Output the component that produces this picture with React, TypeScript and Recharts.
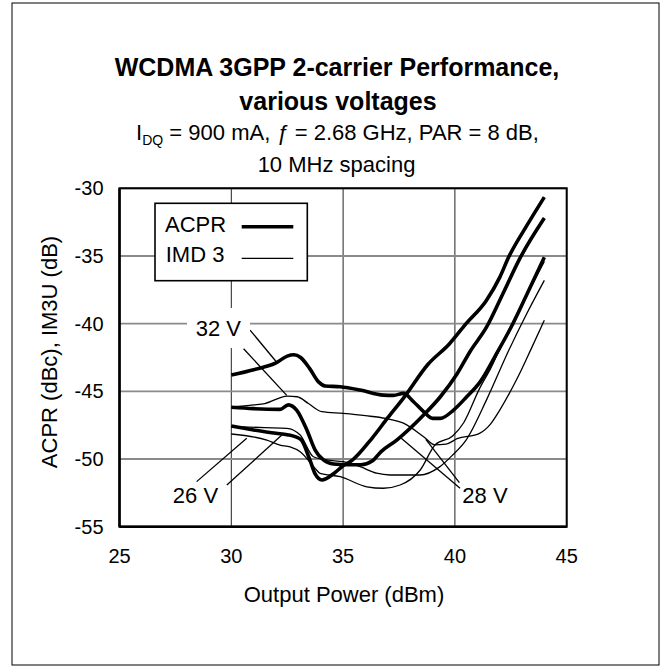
import React from 'react';
import { LineChart, Line, XAxis, YAxis, CartesianGrid, ReferenceLine, ReferenceArea } from 'recharts';

const FONT = '"Liberation Sans", Arial, sans-serif';

const xTicks = [25, 30, 35, 40, 45];
const yTicks = [-55, -50, -45, -40, -35, -30];

// ACPR (thick) curves: [Pout dBm, dBc]
const acpr26V = [[30,-47.56],[31,-47.85],[32,-48.1],[32.5,-48.2],[33.1,-48.55],[33.5,-50.0],[33.75,-51.1],[34.05,-51.55],[34.6,-51.05],[35.0,-50.5],[35.4,-50.1],[36.3,-48.45],[37.0,-46.95],[37.7,-45.5],[38.8,-43.0],[39.75,-41.5],[40.5,-40.0],[41.4,-38.3],[42.0,-36.6],[42.4,-35.1],[43.2,-32.8],[44,-30.65]];
const acpr28V = [[30,-46.18],[31,-46.28],[32.18,-46.33],[32.55,-46.0],[32.93,-46.4],[33.38,-47.86],[33.75,-49.34],[34.12,-50.07],[34.57,-50.37],[35.2,-50.42],[35.8,-50.42],[36.3,-50.15],[36.7,-49.45],[37.4,-48.6],[38.6,-46.75],[39.35,-45.4],[40.1,-43.7],[40.7,-42.0],[41.4,-40.3],[42.2,-37.6],[42.9,-35.2],[44,-32.2]];
const acpr32V = [[30,-43.8],[31,-43.4],[32,-42.9],[32.5,-42.4],[32.8,-42.3],[33.1,-42.5],[33.5,-43.3],[33.9,-44.3],[34.2,-44.6],[34.87,-44.66],[35.76,-44.9],[36.8,-45.28],[37.25,-45.3],[37.7,-45.15],[38.15,-45.77],[38.6,-46.5],[39.0,-47.0],[39.35,-47.0],[39.94,-46.38],[40.53,-45.4],[41.13,-44.3],[41.9,-42.1],[42.5,-40.3],[43.2,-37.9],[44,-35.1]];

// IMD3 (thin) curves: [Pout dBm, dB]
const imd26V = [[30,-48.15],[31.59,-48.6],[32.18,-48.97],[32.63,-49.1],[33.08,-49.46],[33.75,-50.69],[33.97,-51.06],[34.87,-51.3],[36.06,-52.05],[36.8,-52.16],[37.55,-51.92],[38.45,-50.81],[39.12,-48.95],[39.9,-48.3],[40.4,-47.3],[41.1,-44.8],[41.6,-43.3],[42.2,-41.2],[42.8,-39.2],[43.4,-37.3],[44,-35.4]];
const imd28V = [[30,-47.6],[31.5,-47.68],[32.48,-47.73],[33.08,-48.23],[33.67,-49.83],[34.27,-50.07],[35.0,-50.2],[35.76,-50.57],[36.5,-51.05],[37.1,-51.18],[38.45,-51.18],[39.3,-50.6],[39.9,-49.7],[40.5,-48.6],[41.45,-45.5],[42.4,-42.0],[43.2,-39.3],[44,-36.8]];
const imd32V = [[30,-46.15],[31,-46.0],[31.5,-45.9],[32.5,-45.35],[32.95,-45.4],[33.45,-45.9],[34.05,-46.5],[35,-46.63],[36,-46.8],[36.9,-47.0],[37.7,-47.35],[38.6,-48.35],[39.1,-48.95],[39.6,-48.9],[40.1,-48.5],[41.1,-48.1],[41.6,-47.4],[42.0,-46.4],[42.8,-44.0],[43.4,-41.9],[44,-39.75]];

// Callout leader lines: [[x1,y1],[x2,y2]]
const leaders32V = [[[30.84,-40.48],[32.03,-42.85]],[[30.55,-41.85],[32.48,-45.3]]];
const leaders26V = [[[28.45,-51.67],[30.69,-48.47]],[[29.8,-51.92],[32.26,-48.23]]];
const leaders28V = [[[40.23,-52.16],[37.55,-48.4]],[[40.2,-51.75],[38.7,-48.55]]];

const toPts = (arr: number[][]) => arr.map(([x, y]) => ({ x, y }));

const thick = [acpr26V, acpr28V, acpr32V];
const thin = [imd26V, imd28V, imd32V];
const leaders = [...leaders32V, ...leaders26V, ...leaders28V];

export default function App() {
  return (
    <div style={{ position: 'absolute', left: 0, top: 0, width: 665, height: 671, background: '#fff' }}>
      <LineChart
        width={665}
        height={671}
        margin={{ top: 188.3, right: 98.3, bottom: 104.3, left: 59.5 }}
        style={{ position: 'absolute', left: 0, top: 0 }}
      >
        <CartesianGrid horizontal={false} stroke="#222" strokeWidth={1} />
        <CartesianGrid vertical={false} stroke="#8a8a8a" strokeWidth={1.8} />
        <XAxis
          type="number"
          dataKey="x"
          domain={[25, 45]}
          ticks={xTicks}
          allowDataOverflow
          height={40}
          tickLine={false}
          tickSize={0}
          tickMargin={22}
          axisLine={{ stroke: '#000', strokeWidth: 2.5 }}
          tick={{ fontSize: 20, fill: '#000', fontFamily: FONT }}
        />
        <YAxis
          type="number"
          domain={[-55, -30]}
          ticks={yTicks}
          allowDataOverflow
          width={60}
          tickLine={false}
          tickSize={0}
          tickMargin={16}
          axisLine={{ stroke: '#000', strokeWidth: 2.5 }}
          tick={{ fontSize: 20, fill: '#000', fontFamily: FONT }}
        />
        <ReferenceArea x1={25} x2={45} y1={-55} y2={-30} fill="none" fillOpacity={0} stroke="#000" strokeWidth={2} />
        {leaders.map((seg, i) => (
          <ReferenceLine
            key={'ld' + i}
            segment={[{ x: seg[0][0], y: seg[0][1] }, { x: seg[1][0], y: seg[1][1] }]}
            stroke="#000"
            strokeWidth={1.3}
            ifOverflow="visible"
          />
        ))}
        {thin.map((d, i) => (
          <Line key={'t' + i} data={toPts(d)} dataKey="y" type="monotone" stroke="#000" strokeWidth={1.3} dot={false} activeDot={false} isAnimationActive={false} />
        ))}
        {thick.map((d, i) => (
          <Line key={'T' + i} data={toPts(d)} dataKey="y" type="monotone" stroke="#000" strokeWidth={3.6} dot={false} activeDot={false} isAnimationActive={false} />
        ))}
      </LineChart>
      <svg width={665} height={671} style={{ position: 'absolute', left: 0, top: 0, pointerEvents: 'none' }} fontFamily={FONT}>
        <rect x={12} y={3} width={647} height={662} fill="none" stroke="#000" strokeWidth={1} />
        <text x={337} y={76.4} textAnchor="middle" fontSize={25} fontWeight="bold" fill="#000">WCDMA 3GPP 2-carrier Performance,</text>
        <text x={338} y={109.6} textAnchor="middle" fontSize={25} fontWeight="bold" fill="#000">various voltages</text>
        <text x={337.5} y={140} textAnchor="middle" fontSize={22} fill="#000">
          I<tspan fontSize={14} dy={5}>DQ</tspan><tspan dy={-5}> = 900 mA, </tspan><tspan fontStyle="italic">ƒ</tspan> = 2.68 GHz, PAR = 8 dB,
        </text>
        <text x={336.5} y={172} textAnchor="middle" fontSize={22} fill="#000">10 MHz spacing</text>
        <text x={344} y={601.7} textAnchor="middle" fontSize={22} fill="#000">Output Power (dBm)</text>
        <text transform="translate(56.5,352) rotate(-90)" textAnchor="middle" fontSize={22} fill="#000">ACPR (dBc), IM3U (dB)</text>
        {/* Legend */}
        <rect x={155} y={203.3} width={152.3} height={77.4} fill="#fff" stroke="#000" strokeWidth={1.6} />
        <text x={165} y={231.7} fontSize={22} fill="#000">ACPR</text>
        <line x1={241.7} y1={226.7} x2={293.3} y2={226.7} stroke="#000" strokeWidth={3.6} />
        <text x={165.7} y={261.7} fontSize={22} fill="#000">IMD 3</text>
        <line x1={241.7} y1={258.3} x2={293.3} y2={258.3} stroke="#000" strokeWidth={1.3} />
        {/* Voltage callouts */}
        <rect x={187} y={308} width={63} height={40} fill="#fff" />
        <text x={218.3} y={335.7} textAnchor="middle" fontSize={22} fill="#000">32 V</text>
        <text x={195.5} y={503.3} textAnchor="middle" fontSize={22} fill="#000">26 V</text>
        <text x={485} y={502.7} textAnchor="middle" fontSize={22} fill="#000">28 V</text>
      </svg>
    </div>
  );
}
